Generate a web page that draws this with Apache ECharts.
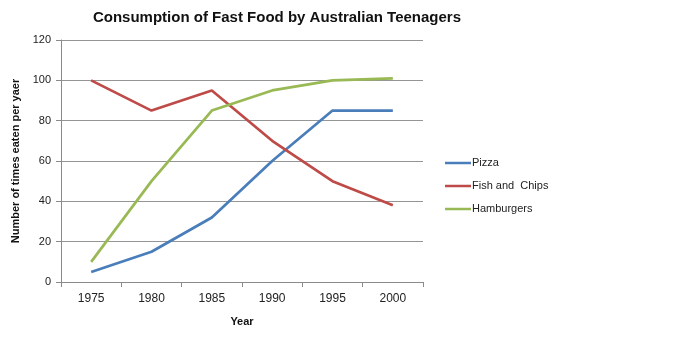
<!DOCTYPE html>
<html>
<head>
<meta charset="utf-8">
<script src="https://cdn.jsdelivr.net/npm/echarts@6/dist/echarts.min.js"></script>
<style>
  html, body { margin: 0; padding: 0; background: #fff; }
  #chart { width: 676px; height: 349px; }
</style>
</head>
<body>
<div id="chart"></div>
<script>
// Times eaten per year, by year
const years = ['1975', '1980', '1985', '1990', '1995', '2000'];
const pizza = [5, 15, 32, 60, 85, 85];
const fishAndChips = [100, 85, 95, 70, 50, 38];
const hamburgers = [10, 50, 85, 95, 100, 101];
const yTicks = [0, 20, 40, 60, 80, 100, 120];

const font = '"Liberation Sans", Arial, sans-serif';

function lineSeries(name, data, color) {
  return {
    name: name,
    type: 'line',
    data: data,
    symbol: 'none',
    lineStyle: { color: color, width: 2.7 },
    itemStyle: { color: color }
  };
}

const chart = echarts.init(document.getElementById('chart'), null, { renderer: 'canvas' });
chart.setOption({
  animation: false,
  backgroundColor: '#fff',
  title: {
    text: 'Consumption of Fast Food by Australian Teenagers',
    left: 272,
    textAlign: 'center',
    top: 5,
    textStyle: { fontFamily: font, fontSize: 15, fontWeight: 'bold', color: '#111' }
  },
  grid: { left: 61, top: 40, right: 253, bottom: 67 },
  legend: {
    orient: 'vertical',
    left: 440,
    top: 151,
    itemGap: 9,
    itemWidth: 26,
    itemHeight: 14,
    icon: 'path://M0,6 L26,6 L26,8.5 L0,8.5 Z',
    textStyle: { fontFamily: font, fontSize: 11, color: '#222', padding: [0, 0, 0, -4], lineHeight: 14 },
    data: ['Pizza', 'Fish and  Chips', 'Hamburgers']
  },
  xAxis: {
    type: 'category',
    data: years,
    boundaryGap: true,
    name: 'Year',
    nameLocation: 'middle',
    nameGap: 34,
    nameTextStyle: { fontFamily: font, fontSize: 11, fontWeight: 'bold', color: '#111' },
    axisLine: { lineStyle: { color: '#8a8a8a', width: 1 } },
    axisTick: { show: true, length: 5, lineStyle: { color: '#8a8a8a' } },
    axisLabel: { fontFamily: font, fontSize: 12, color: '#222', margin: 11 }
  },
  yAxis: {
    type: 'value',
    min: 0,
    max: 120,
    interval: 20,
    name: 'Number of times eaten per yaer',
    nameLocation: 'middle',
    nameGap: 40,
    nameTextStyle: { fontFamily: font, fontSize: 11, fontWeight: 'bold', color: '#111' },
    axisLine: { show: true, lineStyle: { color: '#8a8a8a', width: 1 } },
    axisTick: { show: true, length: 5, lineStyle: { color: '#8a8a8a' } },
    axisLabel: {
      fontFamily: font, fontSize: 11, color: '#222', margin: 10,
      formatter: function (v) { return yTicks.indexOf(v) >= 0 ? String(v) : ''; }
    },
    splitLine: { show: true, lineStyle: { color: '#959595', width: 1 } }
  },
  series: [
    lineSeries('Pizza', pizza, '#4a7ebb'),
    lineSeries('Fish and  Chips', fishAndChips, '#be4b48'),
    lineSeries('Hamburgers', hamburgers, '#98b954')
  ]
});
</script>
</body>
</html>
